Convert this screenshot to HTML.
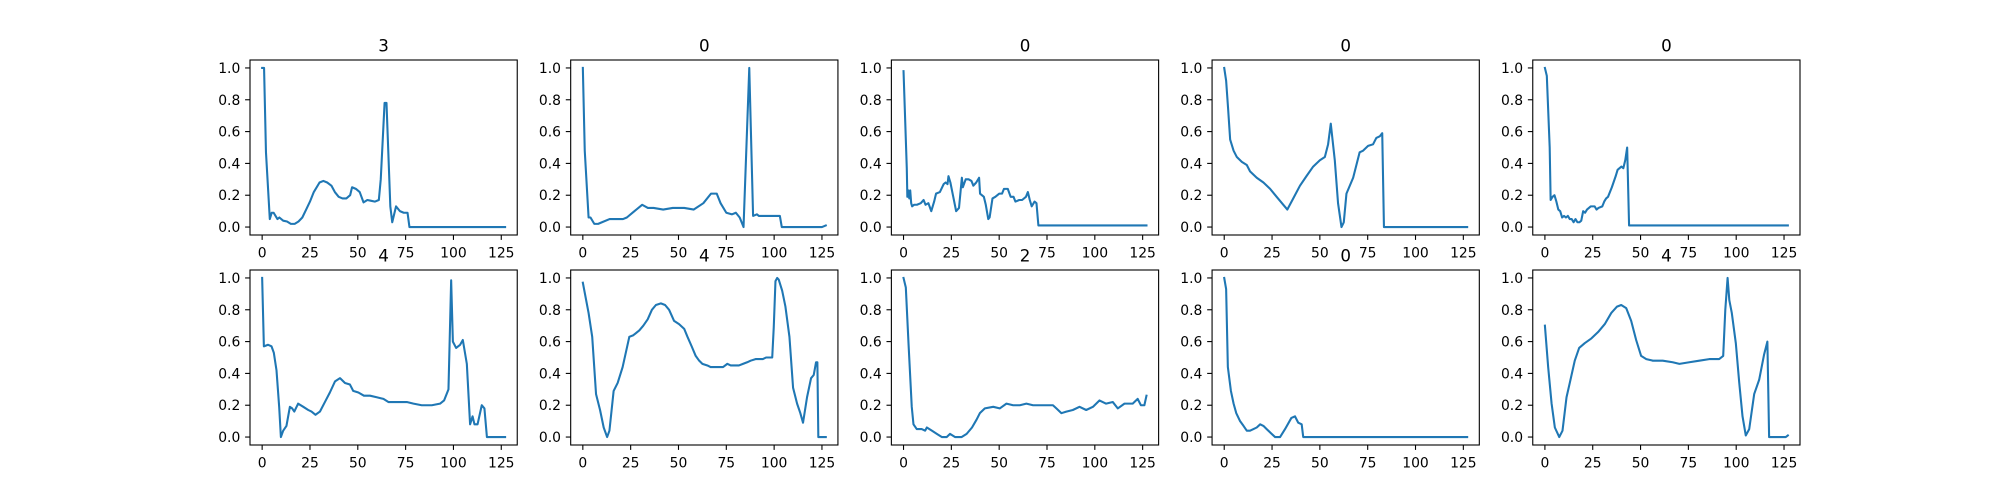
<!DOCTYPE html>
<html><head><meta charset="utf-8"><style>
html,body{margin:0;padding:0;background:#fff;}
svg{display:block;font-family:"DejaVu Sans","Liberation Sans",sans-serif;}
</style></head><body>
<svg id="fig" width="2000" height="500" viewBox="0 0 2000 500" xmlns="http://www.w3.org/2000/svg"></svg>
<script>
const panelTitles = ["3","0","0","0","0","4","4","2","0","4"];
const xTicks = [0,25,50,75,100,125];
const yTicks = [0.0,0.2,0.4,0.6,0.8,1.0];
const yTickLabels = ["0.0","0.2","0.4","0.6","0.8","1.0"];

const ecg0Idx = [0,1,2,4,5,6,8,9,11,13,15,17,19,21,23,25,27,30,32,34,36.2,38,40,42,44,46,47,49,51,53,55,57,59,61,62,64,65,67,68,70,72,74,76,77,127];
const ecg0Val = [1.0,1.0,0.47,0.05,0.09,0.09,0.05,0.06,0.04,0.035,0.02,0.02,0.035,0.06,0.11,0.16,0.22,0.28,0.29,0.28,0.26,0.22,0.19,0.18,0.18,0.20,0.25,0.24,0.22,0.155,0.17,0.165,0.16,0.17,0.30,0.78,0.78,0.13,0.03,0.13,0.10,0.09,0.09,0.0,0.0];

const ecg1Idx = [0,1,3,4,6,8,10,14,17,21,23,26,31,34,37,42,47,53,58,63,67,70,72,75,78,80,82,84,87,89,91,92,97,103,104,125,127];
const ecg1Val = [1.0,0.48,0.06,0.06,0.02,0.02,0.03,0.05,0.05,0.05,0.06,0.09,0.14,0.12,0.12,0.11,0.12,0.12,0.11,0.15,0.21,0.21,0.15,0.09,0.08,0.09,0.06,0.0,1.0,0.07,0.08,0.07,0.07,0.07,0.0,0.0,0.01];

const ecg2Idx = [0,1.7,2,2.5,3,3.5,4,4.5,5.5,7,9,10.5,11.5,13,14.5,16,17,19,21,22,23,23.5,24.5,26,27.5,29,30.5,31,32.5,34,35.5,36.5,38,39.5,40,42,43,44.3,45,46.5,48,50,51.5,52.5,54.5,56,57.5,58.5,60.5,62,64,65,66,67,68.5,69.5,70.5,127];
const ecg2Val = [0.98,0.37,0.19,0.23,0.18,0.23,0.15,0.13,0.14,0.14,0.15,0.17,0.14,0.15,0.10,0.16,0.21,0.22,0.27,0.28,0.27,0.32,0.28,0.19,0.10,0.12,0.31,0.25,0.30,0.30,0.29,0.26,0.28,0.31,0.21,0.19,0.14,0.05,0.06,0.18,0.19,0.21,0.21,0.24,0.24,0.19,0.19,0.16,0.17,0.17,0.19,0.22,0.17,0.13,0.16,0.15,0.01,0.01];

const ecg3Idx = [0,1,2,3.1,4.9,6.6,9.2,11.8,13.5,17,20.5,24,27.4,30.9,33,36.1,39.6,43,46.5,50,52.6,54.3,55.7,57.8,59.5,61.3,62.5,63.9,67.4,70.8,72.6,75.2,77.8,79.5,81.3,82.6,83.5,127];
const ecg3Val = [1.0,0.92,0.75,0.55,0.48,0.44,0.41,0.39,0.35,0.31,0.28,0.24,0.19,0.14,0.11,0.18,0.26,0.32,0.38,0.42,0.44,0.52,0.65,0.42,0.15,0.0,0.03,0.21,0.31,0.47,0.48,0.51,0.52,0.56,0.57,0.59,0.0,0.0];

const ecg4Idx = [0,1,2.5,3,4,5,6,7,8,9,10,11,12,13,14,15,16,17,18,19,20,21,22,23,24,26,27,28,30,31,32,33,35,37,38,39,40,41,42,43,44,127];
const ecg4Val = [1.0,0.95,0.5,0.17,0.19,0.2,0.16,0.11,0.10,0.06,0.07,0.06,0.07,0.05,0.05,0.03,0.05,0.03,0.03,0.04,0.10,0.09,0.11,0.12,0.13,0.13,0.11,0.12,0.13,0.16,0.18,0.19,0.25,0.32,0.36,0.37,0.38,0.37,0.42,0.5,0.01,0.01];

const ecg5Idx = [0,0.9,3.1,4.9,6.1,7.5,8.9,9.8,11,12.7,14.5,15.7,16.8,18.8,21.5,24.1,25.8,27.9,30.2,32.8,35.4,38.1,40.7,43.3,45.9,47.6,50.3,53.2,56.4,59.9,63.4,66,70.3,75.6,79.1,83.4,88.7,93,95.1,97.4,98.8,99.7,101.4,103.5,104.9,107,108.7,110,111,112.6,114.8,116.2,117.5,127];
const ecg5Val = [1.0,0.57,0.58,0.57,0.53,0.42,0.19,0.0,0.04,0.07,0.19,0.18,0.16,0.21,0.19,0.17,0.16,0.14,0.16,0.22,0.28,0.35,0.37,0.34,0.33,0.29,0.28,0.26,0.26,0.25,0.24,0.22,0.22,0.22,0.21,0.20,0.20,0.21,0.23,0.30,0.985,0.60,0.56,0.58,0.61,0.46,0.08,0.13,0.08,0.08,0.20,0.18,0.0,0.0];

const ecg6Idx = [0,3,4.9,6.9,9,10.9,12.7,13.9,16.1,18.2,20.8,24.3,26.4,29.5,31.6,33.9,36.1,38.2,40.8,43,45.1,47.7,50.3,53,54.7,56.9,59,60.8,62.5,65.1,66.8,69.4,71.2,73.3,75.5,77.3,79.3,81.6,83.7,85.9,87.7,90.3,92,94.1,95.8,99,99.8,100.7,101.6,102.4,104.2,105.9,108,109.9,112,113.7,115.1,117.2,119.3,120.7,121.9,122.6,123.1,127];
const ecg6Val = [0.97,0.78,0.63,0.27,0.17,0.06,0.0,0.04,0.29,0.34,0.44,0.63,0.64,0.67,0.70,0.74,0.80,0.83,0.84,0.83,0.80,0.73,0.71,0.68,0.63,0.57,0.51,0.48,0.46,0.45,0.44,0.44,0.44,0.44,0.46,0.45,0.45,0.45,0.46,0.47,0.48,0.49,0.49,0.49,0.50,0.50,0.69,0.98,1.0,0.99,0.92,0.82,0.63,0.31,0.21,0.15,0.09,0.25,0.37,0.39,0.47,0.47,0.0,0.0];

const ecg7Idx = [0,1.2,2.6,4.3,5.2,6.9,9.5,11.3,12.2,14.8,17.4,20,22.6,24.3,26.9,30.4,33,35.8,38.2,39.9,42.5,46.9,50.3,53.8,57.3,60.8,64.2,67.7,72.9,78.1,79.9,82.5,85.1,88.5,92,95.5,99,102.4,105.9,109.4,112,115.5,119.8,122.4,124.1,125.9,127];
const ecg7Val = [1.0,0.94,0.59,0.19,0.08,0.05,0.05,0.04,0.06,0.04,0.02,0.0,0.0,0.02,0.0,0.0,0.02,0.06,0.11,0.15,0.18,0.19,0.18,0.21,0.2,0.2,0.21,0.2,0.2,0.2,0.18,0.15,0.16,0.17,0.19,0.17,0.19,0.23,0.21,0.22,0.18,0.21,0.21,0.24,0.2,0.2,0.26];

const ecg8Idx = [0,1,1.9,3.5,4.9,6.3,8.3,10.1,11.8,13.5,15.3,17,18.8,20.5,22.2,24.8,26.6,29.2,31.8,35.1,37,38.7,40.5,41.3,127];
const ecg8Val = [1.0,0.93,0.44,0.29,0.21,0.15,0.10,0.07,0.04,0.04,0.05,0.06,0.08,0.07,0.05,0.02,0.0,0.0,0.05,0.12,0.13,0.09,0.08,0.0,0.0];

const ecg9Idx = [0,1.7,3.5,5.2,7.5,9.2,11.3,13,15.6,17.9,20.8,24.3,27.8,31.3,34.7,37.7,39.9,42.5,45.1,47.7,50.3,53,56.4,61.6,66.8,70.3,75.5,80.7,85.9,91.1,93.2,94.3,95.5,96.4,97.7,99.8,101.6,103.3,105,106.8,109.4,112,114.6,116.3,117.2,125.9,127];
const ecg9Val = [0.70,0.44,0.21,0.06,0.0,0.04,0.25,0.34,0.48,0.56,0.59,0.62,0.66,0.71,0.78,0.82,0.83,0.81,0.73,0.61,0.51,0.49,0.48,0.48,0.47,0.46,0.47,0.48,0.49,0.49,0.51,0.80,1.0,0.86,0.78,0.59,0.34,0.13,0.01,0.05,0.27,0.36,0.52,0.60,0.0,0.0,0.01];

const seriesIdx = [ecg0Idx,ecg1Idx,ecg2Idx,ecg3Idx,ecg4Idx,ecg5Idx,ecg6Idx,ecg7Idx,ecg8Idx,ecg9Idx];
const seriesVal = [ecg0Val,ecg1Val,ecg2Val,ecg3Val,ecg4Val,ecg5Val,ecg6Val,ecg7Val,ecg8Val,ecg9Val];

const NS = "http://www.w3.org/2000/svg";
const svg = document.getElementById('fig');
const W = 1550/5.8, H = 175, GAP = W*0.2;
const XMIN = -6.35, XMAX = 133.35, YMIN = -0.05, YMAX = 1.05;
function mk(tag, attrs, parent){ const e=document.createElementNS(NS,tag); for(const k in attrs) e.setAttribute(k,attrs[k]); (parent||svg).appendChild(e); return e; }

for (let p=0;p<10;p++){
  const col=p%5, row=Math.floor(p/5);
  const L=250+col*(W+GAP), T=60+row*(H+35);
  const sx=v=>L+(v-XMIN)/(XMAX-XMIN)*W;
  const sy=v=>T+(YMAX-v)/(YMAX-YMIN)*H;
  const g=mk('g',{});
  
  
  // line
  const idx=seriesIdx[p], val=seriesVal[p];
  let d='';
  for(let i=0;i<idx.length;i++) d+=(i?'L':'M')+sx(idx[i]).toFixed(2)+' '+sy(val[i]).toFixed(2);
  const path=mk('path',{d:d,fill:'none',stroke:'#1f77b4','stroke-width':2.08,'stroke-linejoin':'round','stroke-linecap':'square'},g);
  
  
  // frame
  const fr=mk('rect',{x:L,y:T,width:W,height:H,fill:'none',stroke:'#000','stroke-width':1.1},g);
  
  
  // x ticks
  xTicks.forEach(t=>{
    const x=sx(t);
    mk('line',{x1:x,y1:T+H,x2:x,y2:T+H+4.9,stroke:'#000','stroke-width':1.1},g);
    const tx=mk('text',{x:x,y:T+H+22.5,'font-size':13.9,'text-anchor':'middle',fill:'#000'},g);
    tx.textContent=String(t);
    
    
  });
  yTicks.forEach((t,i)=>{
    const y=sy(t);
    mk('line',{x1:L-4.9,y1:y,x2:L,y2:y,stroke:'#000','stroke-width':1.1},g);
    const ty=mk('text',{x:L-9.7,y:y+5,'font-size':13.9,'text-anchor':'end',fill:'#000'},g);
    ty.textContent=yTickLabels[i];
    
    
  });
  const tt=mk('text',{x:L+W/2,y:T-8.3,'font-size':16.7,'text-anchor':'middle',fill:'#000'},g);
  tt.textContent=panelTitles[p];
  
  
}
</script>
</body></html>
